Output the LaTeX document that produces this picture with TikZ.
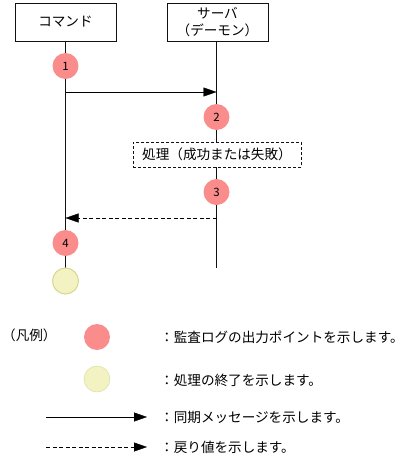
\documentclass[tikz,border=0pt]{standalone}
\usepackage{fontspec}
\setmainfont{Noto Sans CJK JP}
\usetikzlibrary{arrows.meta,backgrounds}

\definecolor{logred}{HTML}{FA8C8C}
\definecolor{endyellow}{HTML}{F2F2C2}
\definecolor{endline}{HTML}{D8D890}
\definecolor{lineclr}{HTML}{111111}

\tikzset{
	objbox/.style={draw=lineclr, fill=white, minimum width=101pt, minimum height=38pt, align=center, inner sep=0pt},
	procbox/.style={draw=lineclr, fill=white, dash pattern=on 3pt off 2pt, minimum width=168pt, minimum height=25pt, inner sep=0pt},
	logpt/.style={circle, fill=logred, minimum size=26pt, inner sep=0pt, font=\fontsize{11.5}{12}\selectfont},
	endpt/.style={circle, fill=endyellow, draw=endline, minimum size=26pt, inner sep=0pt},
	syncmsg/.style={draw=black, -{Triangle[length=13pt,width=9pt]}},
	retmsg/.style={draw=black, dash pattern=on 4pt off 2.5pt, -{Triangle[length=13pt,width=9pt]}},
	legtext/.style={anchor=west, inner sep=0pt}
}

\begin{document}
\begin{tikzpicture}[x=1pt, y=-1pt, line width=1pt, font=\fontsize{13.6}{17}\selectfont]

	\useasboundingbox (0,0) rectangle (419,459);

	% objects
	\node[objbox] (cmd) at (65.5,22) {コマンド};
	\node[objbox] (srv) at (217.5,22) {サーバ\\（デーモン）};

	% sequence
	\node[logpt] (p1) at (65.5,66) {1};
	\coordinate (s1) at (65.5,92);
	\coordinate (s2) at (216.5,92);
	\node[logpt] (p2) at (216.5,117) {2};
	\node[procbox] (proc) at (217,154.5) {処理（成功または失敗）};
	\node[logpt] (p3) at (216.5,192) {3};
	\coordinate (r2) at (216.5,218);
	\coordinate (r1) at (65.5,218);
	\node[logpt] (p4) at (65.5,243) {4};
	\node[endpt] (e1) at (65.5,281) {};
	\coordinate (srvend) at (216.5,268);

	\begin{pgfonlayer}{background}
		\draw[lineclr] (cmd.south -| p1) -- (e1.north);
		\draw[lineclr] (srv.south -| p2) -- (srvend);
	\end{pgfonlayer}

	\draw[syncmsg] (s1) -- (s2);
	\draw[retmsg] (r2) -- (r1);

	% legend
	\node[legtext] (lgd) at (2,335) {（凡例）};

	\node[logpt] (lg1) at (97,337) {};
	\node[legtext] (lg1t) at (160,337) {：監査ログの出力ポイントを示します。};

	\node[endpt] (lg2) at (97,379) {};
	\node[legtext] (lg2t) at (160,380) {：処理の終了を示します。};

	\coordinate (lg3a) at (46,417);
	\coordinate (lg3b) at (147,417);
	\draw[syncmsg] (lg3a) -- (lg3b);
	\node[legtext] (lg3t) at (160,417) {：同期メッセージを示します。};

	\coordinate (lg4a) at (46,447);
	\coordinate (lg4b) at (147,447);
	\draw[retmsg] (lg4a) -- (lg4b);
	\node[legtext] (lg4t) at (160,447) {：戻り値を示します。};

\end{tikzpicture}
\end{document}
